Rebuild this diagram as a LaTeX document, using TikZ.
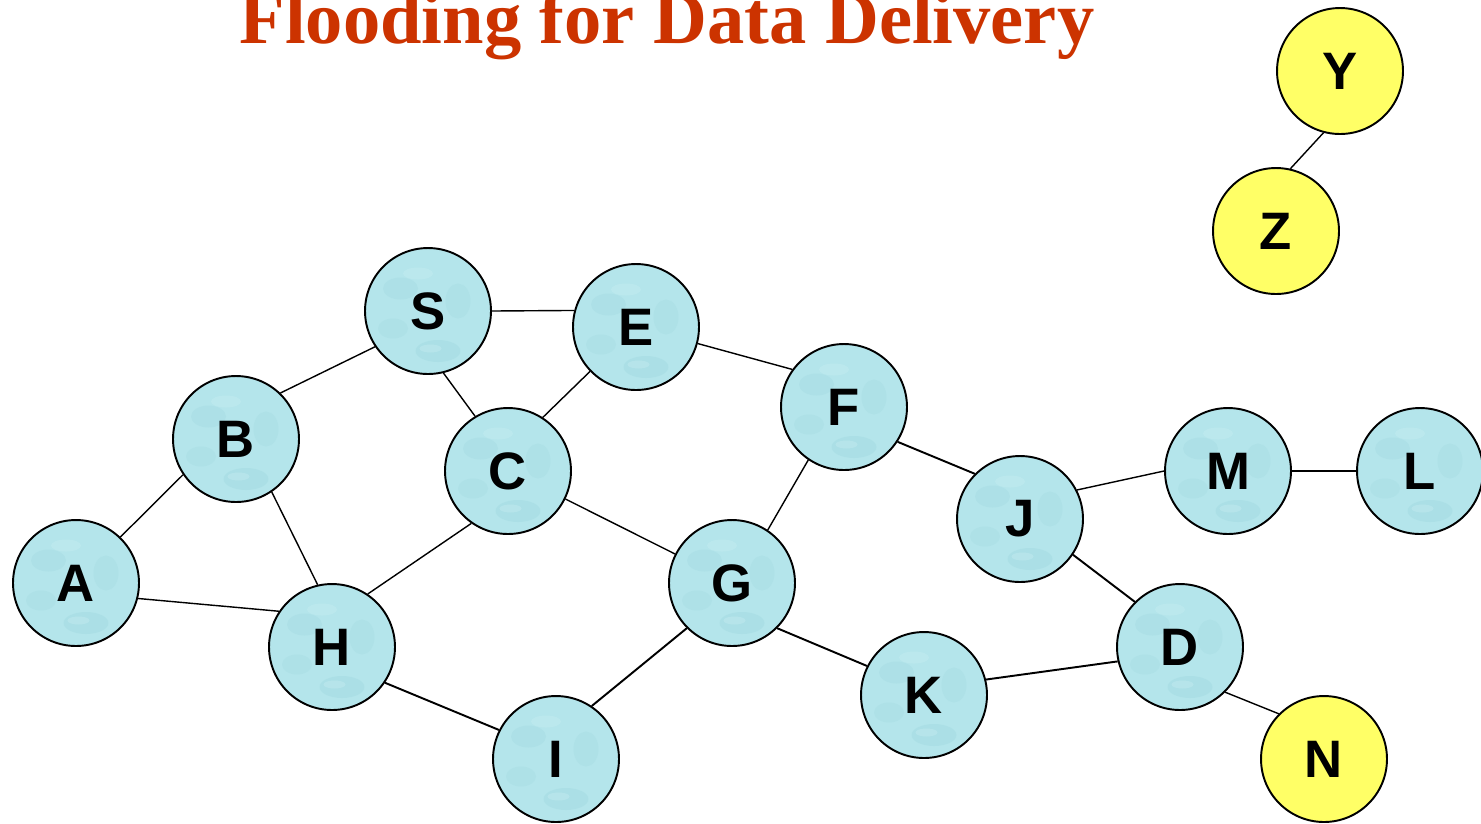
\documentclass[tikz,border=0pt]{standalone}
\usepackage{fontspec}
\setmainfont{Liberation Serif}
\newfontfamily\labelfont{Liberation Sans}
\definecolor{titlered}{RGB}{204,51,0}
\definecolor{nodecyan}{RGB}{180,229,235}
\definecolor{nodespot}{RGB}{150,210,218}
\definecolor{nodelight}{RGB}{205,240,244}
\definecolor{nodeyellow}{RGB}{255,255,102}
\begin{document}
\begin{tikzpicture}[x=0.02cm,y=-0.02cm,
  host/.style={circle,draw=black,line width=1.1pt,minimum size=2.52cm,inner sep=0pt,
    fill=nodecyan,font=\labelfont\bfseries\fontsize{30}{30}\selectfont,
    path picture={
      % faint mottled water texture
      \fill[nodespot,opacity=0.22] ([shift={(-0.55cm,0.45cm)}]path picture bounding box.center) ellipse (0.35cm and 0.22cm);
      \fill[nodespot,opacity=0.2] ([shift={(0.6cm,0.2cm)}]path picture bounding box.center) ellipse (0.25cm and 0.35cm);
      \fill[nodespot,opacity=0.2] ([shift={(-0.7cm,-0.35cm)}]path picture bounding box.center) ellipse (0.3cm and 0.2cm);
      \fill[nodespot,opacity=0.28] ([shift={(0.2cm,-0.8cm)}]path picture bounding box.center) ellipse (0.45cm and 0.22cm);
      \fill[nodelight,opacity=0.35] ([shift={(0.05cm,-0.75cm)}]path picture bounding box.center) ellipse (0.22cm and 0.08cm);
      \fill[nodelight,opacity=0.3] ([shift={(-0.2cm,0.75cm)}]path picture bounding box.center) ellipse (0.3cm and 0.12cm);
    }},
  isolated/.style={circle,draw=black,line width=1.1pt,minimum size=2.52cm,inner sep=0pt,
    fill=nodeyellow,font=\labelfont\bfseries\fontsize{30}{30}\selectfont},
  link/.style={line width=0.8pt},
  thicklink/.style={line width=1.1pt}]
\clip (0,0) rectangle (1481,823);
\fill[white] (0,0) rectangle (1481,823);

\node[anchor=base,text=titlered,font=\bfseries\fontsize{42.4}{44}\selectfont] (title) at (667,43) {Flooding for Data Delivery};

\node[host] (S) at (428,311) {S};
\node[host] (E) at (636,327) {E};
\node[host] (B) at (236,439) {B};
\node[host] (C) at (508,471) {C};
\node[host] (F) at (844,407) {F};
\node[host] (A) at (76,583) {A};
\node[host] (H) at (332,647) {H};
\node[host] (G) at (732,583) {G};
\node[host] (I) at (556,759) {I};
\node[host] (K) at (924,695) {K};
\node[host] (J) at (1020,519) {J};
\node[host] (M) at (1228,471) {M};
\node[host] (L) at (1420,471) {L};
\node[host] (D) at (1180,647) {D};
\node[isolated] (N) at (1324,759) {N};
\node[isolated] (Y) at (1340,71) {Y};
\node[isolated] (Z) at (1276,231) {Z};

\draw[link] (S.0) -- (E.165);
\draw[link] (B.46) -- (S.214);
\draw[link] (S.284) -- (C.121);
\draw[link] (C.57) -- (E.224);
\draw[link] (E.345) -- (F.144);
\draw[link] (B.214) -- (A.46);
\draw[link] (B.304) -- (H.103);
\draw[link] (C.235) -- (H.56);
\draw[link] (C.334) -- (G.153);
\draw[link] (A.346) -- (H.146);
\draw[link] (F.236) -- (G.56);
\draw[thicklink] (F.327) -- (J.135);
\draw[link] (J.27) -- (M.180);
\draw[link] (M.0) -- (L.180);
\draw[thicklink] (J.326) -- (D.135);
\draw[thicklink] (G.315) -- (K.153);
\draw[thicklink] (K.14) -- (D.193);
\draw[thicklink] (H.326) -- (I.153);
\draw[thicklink] (G.225) -- (I.56);
\draw[link] (D.315) -- (N.135);
\draw[link] (Y.255) -- (Z.77);
\end{tikzpicture}
\end{document}
